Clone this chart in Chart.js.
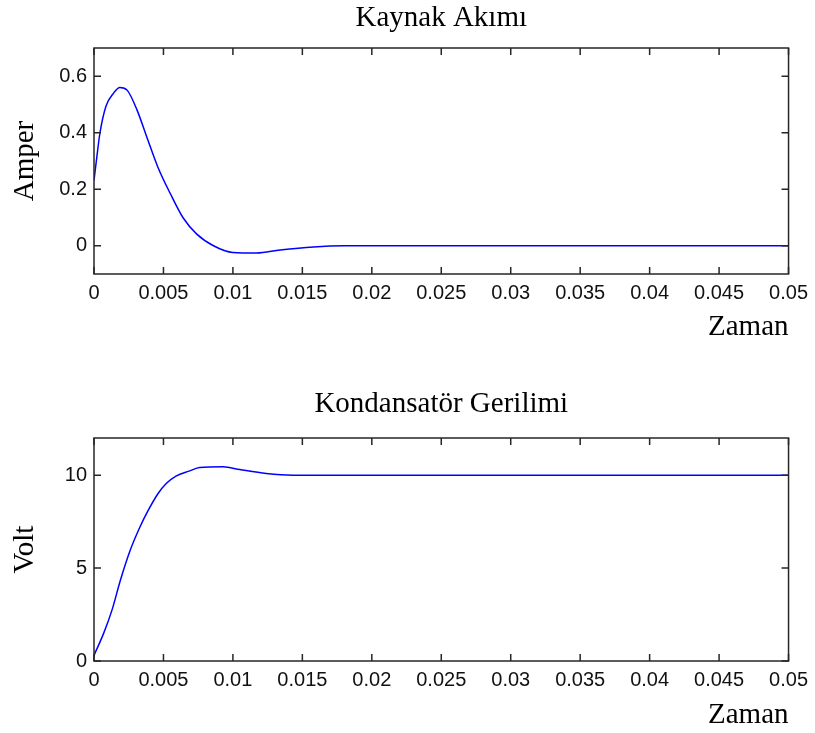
<!DOCTYPE html>
<html><head><meta charset="utf-8">
<script src="https://cdn.jsdelivr.net/npm/chart.js@4.4.1/dist/chart.umd.min.js"></script>
<style>
html,body{margin:0;padding:0;background:#fff;}
#c1{position:absolute;left:0;top:0;}
#c2{position:absolute;left:0;top:366px;}
</style>
</head><body>
<canvas id="c1" width="815" height="366"></canvas>
<canvas id="c2" width="815" height="367"></canvas>
<script>
// ---- Data ----
const timeCurrent = [0, 0.00026, 0.00043, 0.00086, 0.00139, 0.00187, 0.0024, 0.0031, 0.0038, 0.0046, 0.0055, 0.0064, 0.0074, 0.0086, 0.0100, 0.0117, 0.0134, 0.0158, 0.0180, 0.0500];
const currentAmp  = [0.231, 0.337, 0.40, 0.494, 0.539, 0.56, 0.55, 0.48, 0.385, 0.278, 0.184, 0.10, 0.041, 0.0, -0.024, -0.026, -0.015, -0.004, 0, 0];

const timeVoltage = [0, 0.0007, 0.0013, 0.0019, 0.0026, 0.0033, 0.0039, 0.0046, 0.0052, 0.0059, 0.0069, 0.0076, 0.0093, 0.0105, 0.0124, 0.0143, 0.0500];
const capVoltage  = [0.3, 1.5, 2.75, 4.35, 5.95, 7.2, 8.1, 9.0, 9.55, 9.95, 10.23, 10.41, 10.45, 10.3, 10.09, 10.0, 10.0];

const xTickValues = [0, 0.005, 0.01, 0.015, 0.02, 0.025, 0.03, 0.035, 0.04, 0.045, 0.05];
const xTickLabels = ['0', '0.005', '0.01', '0.015', '0.02', '0.025', '0.03', '0.035', '0.04', '0.045', '0.05'];
const yTicksCurrent = [0, 0.2, 0.4, 0.6];
const yTickLabelsCurrent = ['0', '0.2', '0.4', '0.6'];
const yTicksVoltage = [0, 5, 10];
const yTickLabelsVoltage = ['0', '5', '10'];

const titleCurrent = 'Kaynak Akımı';
const titleVoltage = 'Kondansatör Gerilimi';
const yLabelCurrent = 'Amper';
const yLabelVoltage = 'Volt';
const xLabel = 'Zaman';

// ---- Styling ----
const SERIF = "'Liberation Serif', 'Times New Roman', serif";
const SANS = "'Liberation Sans', Arial, sans-serif";

const framePlugin = {
  id: 'frame',
  afterDatasetsDraw(chart) {
    const {ctx, chartArea: a, scales: {x, y}} = chart;
    ctx.save();
    ctx.strokeStyle = '#262626';
    ctx.lineWidth = 1.5;
    ctx.strokeRect(a.left, a.top, a.right - a.left, a.bottom - a.top);
    const L = 7;
    ctx.beginPath();
    x.ticks.forEach(t => {
      const px = x.getPixelForValue(t.value);
      ctx.moveTo(px, a.bottom); ctx.lineTo(px, a.bottom - L);
      ctx.moveTo(px, a.top); ctx.lineTo(px, a.top + L);
    });
    y.ticks.forEach(t => {
      const py = y.getPixelForValue(t.value);
      ctx.moveTo(a.left, py); ctx.lineTo(a.left + L, py);
      ctx.moveTo(a.right, py); ctx.lineTo(a.right - L, py);
    });
    ctx.stroke();
    ctx.restore();
  }
};

function makeChart(id, cfg) {
  const pts = cfg.xs.map((t, i) => ({x: t, y: cfg.ys[i]}));
  return new Chart(document.getElementById(id), {
    type: 'line',
    data: {datasets: [{
      data: pts,
      borderColor: '#0000ff',
      borderWidth: 1.5,
      pointRadius: 0,
      cubicInterpolationMode: 'monotone',
      fill: false
    }]},
    options: {
      responsive: false,
      animation: false,
      devicePixelRatio: 1,
      layout: {padding: {left: 0, right: 25, top: 0, bottom: 0}},
      plugins: {
        legend: {display: false},
        tooltip: {enabled: false},
        title: {
          display: true,
          fullSize: false,
          text: cfg.title,
          color: '#000',
          font: {family: SERIF, size: 29, weight: 'normal'},
          padding: cfg.titlePad
        }
      },
      scales: {
        x: {
          type: 'linear',
          min: 0, max: 0.05,
          grid: {display: false, drawTicks: false},
          border: {display: false},
          afterBuildTicks: s => { s.ticks = xTickValues.map(v => ({value: v})); },
          afterFit: s => { s.height = cfg.xHeight; },
          ticks: {
            autoSkip: false, maxRotation: 0, padding: 7,
            color: '#111',
            font: {family: SANS, size: 20},
            callback: (v, i) => xTickLabels[i]
          },
          title: {
            display: true, text: xLabel, align: 'end', color: '#000',
            font: {family: SERIF, size: 29, weight: 'normal'},
            padding: {top: 0, bottom: cfg.zamanPad}
          }
        },
        y: {
          type: 'linear',
          min: cfg.yMin, max: cfg.yMax,
          grid: {display: false, drawTicks: false},
          border: {display: false},
          afterBuildTicks: s => { s.ticks = cfg.yTicks.map(v => ({value: v})); },
          afterFit: s => { s.width = 94; },
          ticks: {
            padding: 7, color: '#111',
            font: {family: SANS, size: 20},
            callback: (v, i) => cfg.yTickLabels[i]
          },
          title: {
            display: true, text: cfg.yLabel, color: '#000',
            font: {family: SERIF, size: 29, weight: 'normal'},
            padding: {top: 7.6, bottom: 0}
          }
        }
      }
    },
    plugins: [framePlugin]
  });
}

makeChart('c1', {
  xs: timeCurrent, ys: currentAmp, title: titleCurrent,
  titlePad: {top: 0.6, bottom: 12.6},
  yMin: -0.1, yMax: 0.7, yTicks: yTicksCurrent, yTickLabels: yTickLabelsCurrent,
  yLabel: yLabelCurrent, xHeight: 92, zamanPad: 21.6
});
makeChart('c2', {
  xs: timeVoltage, ys: capVoltage, title: titleVoltage,
  titlePad: {top: 20.6, bottom: 16.6},
  yMin: 0, yMax: 12, yTicks: yTicksVoltage, yTickLabels: yTickLabelsVoltage,
  yLabel: yLabelVoltage, xHeight: 72, zamanPad: 0.6
});
</script>
</body></html>
